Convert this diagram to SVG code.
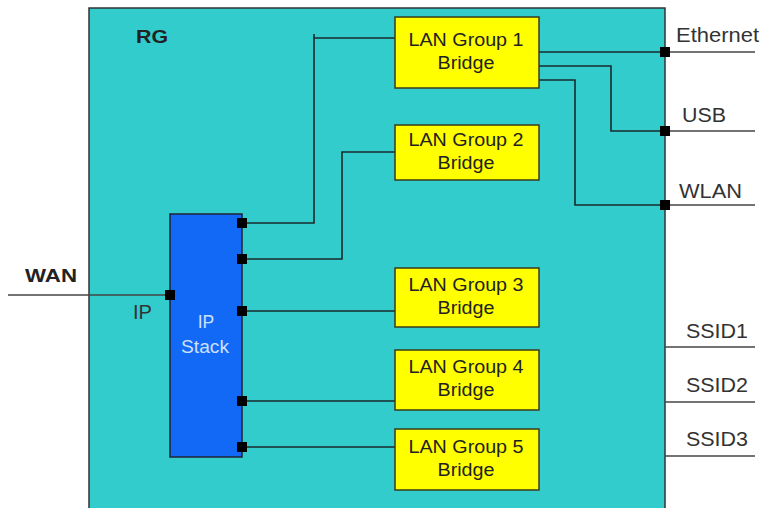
<svg xmlns="http://www.w3.org/2000/svg" width="763" height="508" viewBox="0 0 763 508">
<style>
.t{font-family:"Liberation Sans",Arial,sans-serif;fill:#222}
.lan rect{fill:#FFFF00;stroke:#3a3a1a;stroke-width:1.5}
.lan text{font-size:17.5px;text-anchor:middle}
.c{fill:none;stroke:#1a2a2a;stroke-width:1.6}
.o{fill:none;stroke:#444;stroke-width:1.3}
.p{fill:#000}
.lbl{font-size:19.5px;fill:#333}
</style>
<rect width="763" height="508" fill="#fff"/>
<g id="RG">
<rect x="89" y="8" width="576" height="520" fill="#33CCCC" stroke="#333" stroke-width="1.5"/>
<text class="t" x="136" y="43" font-size="18" font-weight="bold" textLength="32" lengthAdjust="spacingAndGlyphs">RG</text>
</g>
<g id="outside">
<line class="o" x1="665" y1="52" x2="755" y2="52"/>
<line class="o" x1="665" y1="131" x2="755" y2="131"/>
<line class="o" x1="665" y1="205" x2="755" y2="205"/>
<line class="o" x1="665" y1="347" x2="755" y2="347"/>
<line class="o" x1="665" y1="402" x2="755" y2="402"/>
<line class="o" x1="665" y1="456" x2="755" y2="456"/>
<line class="o" x1="8" y1="295" x2="170" y2="295"/>
<text class="t lbl" x="676" y="42" textLength="83" lengthAdjust="spacingAndGlyphs">Ethernet</text>
<text class="t lbl" x="682" y="122" textLength="44" lengthAdjust="spacingAndGlyphs">USB</text>
<text class="t lbl" x="679" y="198" textLength="63" lengthAdjust="spacingAndGlyphs">WLAN</text>
<text class="t lbl" x="686" y="338" textLength="62" lengthAdjust="spacingAndGlyphs">SSID1</text>
<text class="t lbl" x="686" y="392" textLength="62" lengthAdjust="spacingAndGlyphs">SSID2</text>
<text class="t lbl" x="686" y="446" textLength="62" lengthAdjust="spacingAndGlyphs">SSID3</text>
<text class="t" x="25" y="282" font-size="18" font-weight="bold" textLength="52" lengthAdjust="spacingAndGlyphs">WAN</text>
<text class="t lbl" x="133" y="319" font-size="18" textLength="19" lengthAdjust="spacingAndGlyphs">IP</text>
</g>
<g id="connectors">
<polyline class="c" points="242,223 314,223 314,38 395,38"/>
<line class="c" x1="314" y1="34" x2="314" y2="38"/>
<polyline class="c" points="242,259 342,259 342,152 395,152"/>
<line class="c" x1="242" y1="311" x2="395" y2="311"/>
<line class="c" x1="242" y1="401" x2="395" y2="401"/>
<line class="c" x1="242" y1="447" x2="395" y2="447"/>
<line class="c" x1="539" y1="52" x2="665" y2="52"/>
<polyline class="c" points="539,66 611,66 611,131 665,131"/>
<polyline class="c" points="539,80 575,80 575,205 665,205"/>
</g>
<g id="ipstack">
<rect x="170" y="214" width="72" height="243" fill="#1169F5" stroke="#223" stroke-width="1.5"/>
<text class="t" x="206" y="328" font-size="17.5" text-anchor="middle" style="fill:#cfe0ff">IP</text>
<text class="t" x="205" y="353" font-size="17.5" text-anchor="middle" style="fill:#cfe0ff" textLength="48" lengthAdjust="spacingAndGlyphs">Stack</text>
<rect class="p" x="165" y="290" width="10" height="10"/>
<rect class="p" x="237" y="218" width="10" height="10"/>
<rect class="p" x="237" y="254" width="10" height="10"/>
<rect class="p" x="237" y="306" width="10" height="10"/>
<rect class="p" x="237" y="396" width="10" height="10"/>
<rect class="p" x="237" y="442" width="10" height="10"/>
</g>
<g id="ports">
<rect class="p" x="660" y="47" width="10" height="10"/>
<rect class="p" x="660" y="126" width="10" height="10"/>
<rect class="p" x="660" y="200" width="10" height="10"/>
</g>
<g id="lan1" class="lan">
<rect x="395" y="17" width="144" height="71"/>
<text class="t" x="466" y="46" textLength="115" lengthAdjust="spacingAndGlyphs">LAN Group 1</text>
<text class="t" x="466" y="69" textLength="57" lengthAdjust="spacingAndGlyphs">Bridge</text>
</g>
<g id="lan2" class="lan">
<rect x="395" y="125" width="144" height="55"/>
<text class="t" x="466" y="146" textLength="115" lengthAdjust="spacingAndGlyphs">LAN Group 2</text>
<text class="t" x="466" y="169" textLength="57" lengthAdjust="spacingAndGlyphs">Bridge</text>
</g>
<g id="lan3" class="lan">
<rect x="395" y="268" width="144" height="59"/>
<text class="t" x="466" y="291" textLength="115" lengthAdjust="spacingAndGlyphs">LAN Group 3</text>
<text class="t" x="466" y="314" textLength="57" lengthAdjust="spacingAndGlyphs">Bridge</text>
</g>
<g id="lan4" class="lan">
<rect x="395" y="350" width="144" height="60"/>
<text class="t" x="466" y="373" textLength="115" lengthAdjust="spacingAndGlyphs">LAN Group 4</text>
<text class="t" x="466" y="396" textLength="57" lengthAdjust="spacingAndGlyphs">Bridge</text>
</g>
<g id="lan5" class="lan">
<rect x="395" y="429" width="144" height="61"/>
<text class="t" x="466" y="453" textLength="115" lengthAdjust="spacingAndGlyphs">LAN Group 5</text>
<text class="t" x="466" y="476" textLength="57" lengthAdjust="spacingAndGlyphs">Bridge</text>
</g>
</svg>
